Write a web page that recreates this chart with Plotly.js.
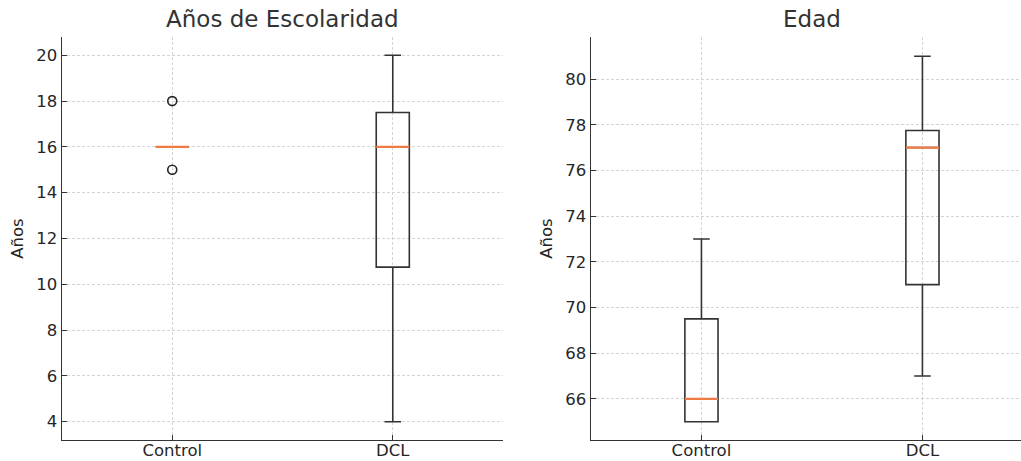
<!DOCTYPE html>
<html>
<head>
<meta charset="utf-8">
<script src="https://cdn.plot.ly/plotly-3.0.1.min.js"></script>
<style>html,body{margin:0;padding:0;background:#fff;}#chart{width:1021px;height:461px;}</style>
</head>
<body>
<div id="chart"></div>
<script>
// Categories
const groups = ["Control", "DCL"];

// Años de Escolaridad – box statistics
const escQ1 = [16, 10.75];
const escMedian = [16, 16];
const escQ3 = [16, 17.5];
const escLow = [16, 4];
const escHigh = [16, 20];
const escOutlierGroup = [0, 0];
const escOutliers = [18, 15];

// Edad – box statistics
const edadQ1 = [65, 71];
const edadMedian = [66, 77];
const edadQ3 = [69.5, 77.75];
const edadLow = [65, 67];
const edadHigh = [73, 81];

const titles = ["Años de Escolaridad", "Edad"];
const yLabel = "Años";

const boxW = 0.15;
const dark = "#333333";
const orange = "#f07b45";
const xpos = groups.map((g, i) => i);

function boxTrace(q1, med, q3, lo, hi, xa, ya) {
  return {
    type: "box", x: xpos, q1: q1, median: med, q3: q3,
    lowerfence: lo, upperfence: hi,
    width: boxW, whiskerwidth: 0.5,
    fillcolor: "rgba(0,0,0,0)",
    line: {color: dark, width: 1.6},
    boxpoints: false, hoverinfo: "skip",
    xaxis: xa, yaxis: ya, showlegend: false
  };
}
// median drawn as a degenerate box on top, in orange
function medianTrace(med, xa, ya) {
  return {
    type: "box", x: xpos, q1: med, median: med, q3: med,
    lowerfence: med, upperfence: med,
    width: boxW, whiskerwidth: 0,
    fillcolor: "rgba(0,0,0,0)",
    line: {color: orange, width: 2.2},
    boxpoints: false, hoverinfo: "skip",
    xaxis: xa, yaxis: ya, showlegend: false
  };
}

const traces = [
  boxTrace(escQ1, escMedian, escQ3, escLow, escHigh, "x", "y"),
  medianTrace(escMedian, "x", "y"),
  {type: "scatter", mode: "markers", x: escOutlierGroup, y: escOutliers,
   marker: {symbol: "circle-open", size: 9, color: "#222", line: {width: 1.6, color: "#222"}},
   xaxis: "x", yaxis: "y", showlegend: false, hoverinfo: "skip"},
  boxTrace(edadQ1, edadMedian, edadQ3, edadLow, edadHigh, "x2", "y2"),
  medianTrace(edadMedian, "x2", "y2")
];

const font = {family: "DejaVu Sans, sans-serif", size: 16.5, color: "#262626"};
const grid = {showgrid: true, gridcolor: "#d4d4d4", griddash: "3px,2px", gridwidth: 1};
function xaxis(domain, range) {
  return Object.assign({domain: domain, range: range, tickmode: "array", tickvals: xpos, ticktext: groups,
    showline: true, linecolor: dark, linewidth: 1.3, ticks: "inside", ticklen: 5, tickcolor: dark,
    zeroline: false, tickfont: font, fixedrange: true, ticklabelstandoff: -5}, grid);
}
function yaxis(range, dtick, xa) {
  return Object.assign({range: range, dtick: dtick, showline: true, linecolor: dark, linewidth: 1.3,
    ticks: "inside", ticklen: 5, tickcolor: dark, zeroline: false, tickfont: font, anchor: xa,
    title: {text: yLabel, font: font, standoff: 8}}, grid);
}

const layout = {
  width: 1021, height: 461,
  margin: {l: 0, r: 0, t: 37, b: 21},
  paper_bgcolor: "#fff", plot_bgcolor: "#fff",
  font: font,
  boxmode: "overlay",
  xaxis: xaxis([0.0607, 0.4927], [-0.5, 1.5]),
  yaxis: yaxis([3.2, 20.8], 2, "x"),
  xaxis2: Object.assign(xaxis([0.5788, 1.0], [-0.5, 1.446]), {anchor: "y2"}),
  yaxis2: yaxis([64.2, 81.84], 2, "x2"),
  annotations: [
    {text: titles[0], xref: "paper", yref: "paper", x: (0.0607 + 0.4927) / 2, y: 1, yshift: 18,
     xanchor: "center", yanchor: "middle", showarrow: false, font: {family: font.family, size: 23, color: "#333"}},
    {text: titles[1], xref: "paper", yref: "paper", x: 812 / 1021, y: 1, yshift: 18,
     xanchor: "center", yanchor: "middle", showarrow: false, font: {family: font.family, size: 23, color: "#333"}}
  ]
};

Plotly.newPlot("chart", traces, layout, {staticPlot: true});
</script>
</body>
</html>
